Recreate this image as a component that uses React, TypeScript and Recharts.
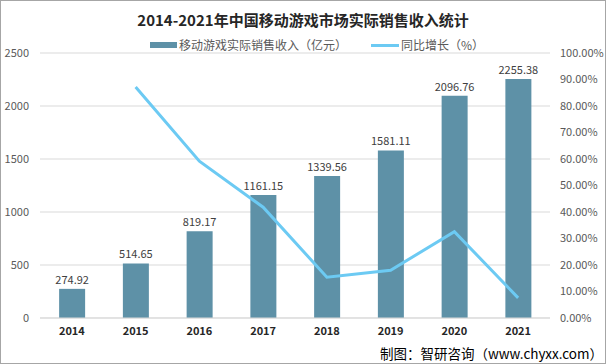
import { ComposedChart, Bar, Line, XAxis, YAxis, CartesianGrid, LabelList } from 'recharts';

const years = ['2014', '2015', '2016', '2017', '2018', '2019', '2020', '2021'];
const revenue = [274.92, 514.65, 819.17, 1161.15, 1339.56, 1581.11, 2096.76, 2255.38];
const growth = [null, 87.2, 59.2, 41.8, 15.4, 18.0, 32.6, 7.6];
const leftTicks = [0, 500, 1000, 1500, 2000, 2500];
const rightTicks = [0, 10, 20, 30, 40, 50, 60, 70, 80, 90, 100];

const BAR = '#5e91a7';
const LINE = '#6ccaf3';
const FONT = '"Noto Sans CJK SC", "Noto Sans", sans-serif';

const data = years.map((y, i) => ({ year: y, revenue: revenue[i], growth: growth[i] }));

export default function App() {
  return (
    <div
      style={{
        position: 'absolute',
        left: 0,
        top: 0,
        width: 606,
        height: 364,
        boxSizing: 'border-box',
        border: '1px solid #a6a6a6',
        background: '#fff',
        fontFamily: FONT,
      }}
    >
      <div
        style={{
          position: 'absolute',
          left: 0,
          top: 9,
          width: 604,
          textAlign: 'center',
          fontSize: 15,
          fontWeight: 700,
          color: '#262626',
          lineHeight: '20px',
        }}
      >
        2014-2021年中国移动游戏市场实际销售收入统计
      </div>
      <div
        style={{
          position: 'absolute',
          left: 149,
          top: 35,
          display: 'flex',
          alignItems: 'center',
          fontSize: 12,
          color: '#595959',
          lineHeight: '18px',
        }}
      >
        <span style={{ display: 'inline-block', width: 27, height: 6, background: BAR, marginRight: 2 }} />
        <span>移动游戏实际销售收入（亿元）</span>
        <span style={{ display: 'inline-block', width: 28, height: 3, background: LINE, marginLeft: 24, marginRight: 2 }} />
        <span>同比增长（%）</span>
      </div>
      <div style={{ position: 'absolute', left: -1, top: -1 }}>
        <ComposedChart
          width={606}
          height={364}
          data={data}
          margin={{ top: 53, right: 0, bottom: 0, left: 0 }}
          barCategoryGap="30%"
        >
          <CartesianGrid vertical={false} stroke="#d9d9d9" yAxisId="left" />
          <XAxis
            dataKey="year"
            height={46}
            axisLine={{ stroke: '#d9d9d9' }}
            tickLine={false}
            tickSize={0}
            tickMargin={9}
            tick={{ fill: '#262626', fontSize: 11, fontWeight: 700, fontFamily: FONT }}
          />
          <YAxis
            yAxisId="left"
            width={40}
            domain={[0, 2500]}
            ticks={leftTicks}
            axisLine={false}
            tickLine={false}
            tickSize={0}
            tickMargin={11}
            tick={{ fill: '#595959', fontSize: 11, fontFamily: FONT }}
          />
          <YAxis
            yAxisId="right"
            orientation="right"
            width={56}
            domain={[0, 100]}
            ticks={rightTicks}
            axisLine={false}
            tickLine={false}
            tickSize={0}
            tickMargin={10}
            tickFormatter={(v: number) => `${v.toFixed(2)}%`}
            tick={{ fill: '#595959', fontSize: 11, fontFamily: FONT, textAnchor: 'start' }}
          />
          <Bar yAxisId="left" dataKey="revenue" fill={BAR} isAnimationActive={false}>
            <LabelList
              dataKey="revenue"
              position="top"
              offset={5}
              fill="#404040"
              fontSize={11}
              fontFamily={FONT}
              formatter={(v: unknown) => Number(v).toFixed(2)}
            />
          </Bar>
          <Line
            yAxisId="right"
            dataKey="growth"
            stroke={LINE}
            strokeWidth={3}
            dot={false}
            activeDot={false}
            type="linear"
            isAnimationActive={false}
          />
        </ComposedChart>
      </div>
      <div
        style={{
          position: 'absolute',
          right: 2,
          top: 343,
          fontSize: 13.5,
          color: '#000',
          lineHeight: '18px',
        }}
      >
        制图：智研咨询（www.chyxx.com）
      </div>
    </div>
  );
}
